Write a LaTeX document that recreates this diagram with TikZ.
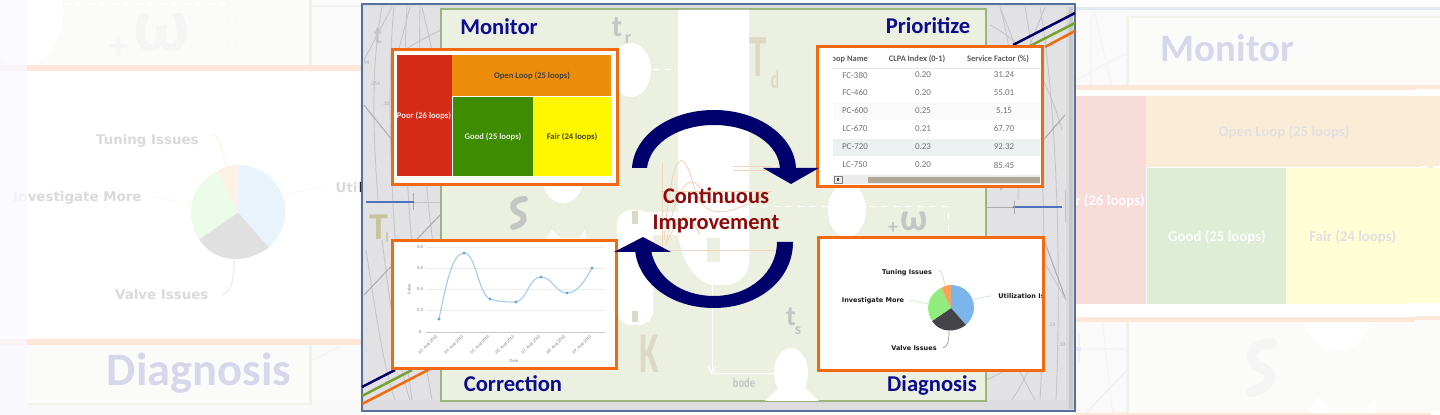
\documentclass[tikz,border=0pt]{standalone}
\usepackage{fontspec}
\setmainfont{Carlito}
\newfontfamily\piefont{DejaVu Sans}
\definecolor{navytitle}{HTML}{0C0C8E}
\definecolor{arrownavy}{HTML}{00006C}
\definecolor{maroonT}{HTML}{8E0A0A}
\definecolor{boxorange}{HTML}{F26A10}
\definecolor{panelgreen}{HTML}{EBF0E1}
\definecolor{paneledge}{HTML}{9DB57C}
\definecolor{stripgray}{HTML}{E2E2E4}
\definecolor{framegray}{HTML}{DDDDDF}
\definecolor{frameblue}{HTML}{54719E}
\definecolor{hatch}{HTML}{C6C6C8}
\definecolor{hatchd}{HTML}{ABABAD}
\definecolor{glyphtan}{HTML}{DED9C5}
\definecolor{glyphtand}{HTML}{C9C4A0}
\definecolor{glyphgray}{HTML}{C5C5C5}
\definecolor{lineblue}{HTML}{4F71BE}
\definecolor{stripegreen}{HTML}{76A22F}
\definecolor{tmred}{HTML}{D62B16}
\definecolor{tmorange}{HTML}{EC8E0C}
\definecolor{tmgreen}{HTML}{3E8C00}
\definecolor{tmyellow}{HTML}{FFF700}
\definecolor{chartline}{HTML}{A9CFEA}
\definecolor{chartpt}{HTML}{6AA8DC}
\definecolor{pieblue}{HTML}{7CB5EC}
\definecolor{piedark}{HTML}{434348}
\definecolor{piegreen}{HTML}{90ED7D}
\definecolor{pieorange}{HTML}{F7A35C}
\definecolor{miniorange}{HTML}{F2D5BC}
\definecolor{rowtint}{HTML}{ECF0F0}
\definecolor{scrollthumb}{HTML}{AFA899}
\def\lwk{1}
\tikzset{
  x=0.5pt,y=-0.5pt,
  lw/.style={line width=#1*\lwk*0.5pt},
  framerect/.style={fill=framegray,draw=frameblue,lw=2},
  greenpanel/.style={fill=panelgreen,draw=paneledge,lw=1.4},
  hatchline/.style={draw=hatch,lw=0.9},
  hatchdark/.style={draw=hatchd,lw=1},
  orangebox/.style={draw=boxorange,fill=white,lw=3},
  whiteshape/.style={fill=white,draw=none},
  title/.style={text=navytitle,anchor=base,font=\fontsize{11.3pt}{12pt}\selectfont\bfseries,inner sep=0pt},
  contlabel/.style={text=maroonT,anchor=base,font=\fontsize{11.2pt}{12pt}\selectfont\bfseries,inner sep=0pt},
  tmdark/.style={text=black!75,font=\fontsize{4.3pt}{5pt}\selectfont\bfseries,inner sep=0pt},
  tmlight/.style={text=black!8,font=\fontsize{4.3pt}{5pt}\selectfont\bfseries,inner sep=0pt},
  thead/.style={text=black!65,font=\fontsize{4.2pt}{5pt}\selectfont\bfseries,inner sep=0pt},
  tcell/.style={text=black!55,font=\fontsize{4.5pt}{5pt}\selectfont,inner sep=0pt},
  axlab/.style={text=black!50,font=\fontsize{2.3pt}{2.5pt}\selectfont,inner sep=0pt},
  pielab/.style={text=black!90,font=\piefont\fontsize{3.25pt}{3.5pt}\selectfont\bfseries,inner sep=0pt},
  gridl/.style={draw=black!8,lw=0.6},
  pieconn/.style={lw=0.7},
  ghostnum/.style={inner sep=0pt,text=hatchd,font=\fontsize{2.8pt}{3pt}\selectfont},
  ghostgray/.style={inner sep=0pt,text=glyphgray,font=\fontsize{#1pt}{#1pt}\selectfont\bfseries},
  ghosttan/.style={inner sep=0pt,text=glyphtan,font=\fontsize{#1pt}{#1pt}\selectfont\bfseries},
  ghosttand/.style={inner sep=0pt,text=glyphtand,font=\fontsize{#1pt}{#1pt}\selectfont\bfseries},
}
\newcommand{\maindiagram}{%
  % frame and grey strips
  \path[framerect] (362,4) rectangle (1075,411);
  \path[fill=stripgray] (364,7) rectangle (441,400);
  \path[fill=stripgray] (986,7) rectangle (1066,400);
  \path[fill=black!22] (1066,7) rectangle (1073,409);
  \path[fill=white,opacity=.35] (1066,7) rectangle (1069,409);
  % hatch left
  \begin{scope}
    \clip (364,7) rectangle (441,400);
    \draw[hatchline] (382,7) .. controls (372,60) and (372,120) .. (378,200);
    \draw[hatchline] (394,7) .. controls (385,100) and (392,260) .. (412,400);
    \draw[hatchline] (407,7) .. controls (400,120) and (410,280) .. (432,400);
    \draw[hatchline] (420,7) .. controls (418,100) and (425,200) .. (441,300);
    \draw[hatchline] (364,60) -- (392,7);
    \draw[hatchline] (396,60) -- (410,7);
    \draw[hatchline] (432,50) -- (422,7);
    \draw[hatchline] (441,30) .. controls (420,40) and (412,45) .. (405,50);
    \draw[hatchline] (366,250) .. controls (378,330) and (385,370) .. (395,400);
    \draw[hatchline] (382,240) .. controls (392,320) and (400,370) .. (410,400);
    \draw[hatchdark] (364,105) -- (392,140);
    \draw[hatchdark] (364,295) -- (441,214);
    \draw[hatchdark] (413,193) -- (413,210);
    \draw[hatchline] (414,202) -- (441,202);
  \end{scope}
  \draw[lineblue,lw=2] (366,202) -- (414,202);
  \node[ghostgray=12] (gt) at (378,36) {t};
  \node[ghostnum] (g1) at (366,63) {.54};
  \node[ghostnum] (g2) at (375,84) {.254};
  \node[ghostnum] (g3) at (386,104) {.10};
  % hatch right
  \begin{scope}
    \clip (986,7) rectangle (1066,400);
    \draw[hatchline] (1000,7) .. controls (1015,60) and (1020,140) .. (1018,200);
    \draw[hatchline] (1025,7) .. controls (1040,90) and (1050,220) .. (1040,400);
    \draw[hatchline] (1040,7) .. controls (1056,100) and (1062,260) .. (1056,400);
    \draw[hatchline] (990,25) .. controls (1020,40) and (1045,70) .. (1062,130);
    \draw[hatchline] (1000,7) -- (1015,45);
    \draw[hatchline] (1030,45) -- (1045,7);
    \draw[hatchline] (986,135) .. controls (1000,125) and (1010,125) .. (1020,130);
    \draw[hatchdark] (1000,190) -- (1065,115);
    \draw[hatchdark] (986,208) -- (1013,208);
    \draw[hatchdark] (1044,240) -- (1066,300);
    \draw[hatchline] (1043,260) -- (1066,300);
    \draw[hatchline] (1040,345) .. controls (1020,390) and (1015,395) .. (1012,400);
    \draw[hatchline] (986,380) .. controls (1010,370) and (1030,355) .. (1045,330);
    \draw[hatchline] (1020,372) -- (1035,400);
    \draw[hatchline] (1065,190) -- (1065,222);
  \end{scope}
  \draw[lineblue,lw=2] (1013,207) -- (1062,207);
  \draw[hatchdark] (1014,201) -- (1014,214);
  \node[ghostnum] (g4) at (1052,325) {.54};
  \node[ghostnum] (g5) at (1062,345) {.10};
  % green panel
  \path[greenpanel] (441,9) rectangle (986,401);
  % white background shapes
  \path[whiteshape] (678,10) -- (749,10) -- (749,262) .. controls (749,275) and (738,285) .. (725,285) -- (712,285) .. controls (692,280) and (678,255) .. (678,225) -- cycle;
  \path[whiteshape] (631,70) ellipse (20 and 27);
  \path[whiteshape] (563,180) ellipse (20 and 23);
  \path[whiteshape] (847,210) ellipse (19 and 27);
  \path[whiteshape,rounded corners=7pt] (617,210) rectangle (653,325);
  \path[whiteshape] (635,212) rectangle (678,235);
  \path[fill=glyphtan] (632,211) rectangle (638,224);
  \path[fill=glyphtan] (632,311) rectangle (638,322);
  \path[fill=panelgreen] (707,238) rectangle (720,262);
  \path[whiteshape] (791,373) ellipse (17 and 25);
  \path[whiteshape] (765,401) -- (780,387) -- (804,387) -- (819,401) -- cycle;
  \path[whiteshape] (545,240) -- (552,230) -- (560,238) -- (580,238) -- (585,230) -- (587,245) -- cycle;
  \draw[white,lw=1,dashed] (653,70) -- (678,70);
  \draw[white,lw=1,dashed] (750,207) -- (948,207) -- (948,235);
  \draw[white,lw=1] (712,285) -- (712,374) -- (790,374);
  \draw[white,lw=1] (708,366) -- (712,374) -- (716,366);
  \draw[white,lw=1] (783,369) -- (790,374) -- (783,379);
  % glyphs
  \node[ghostgray=15] (gtr) at (617,27) {t};
  \node[ghostgray=9] (gtr2) at (628,39) {r};
  \node[ghosttan=30,xscale=.58] (gTd) at (758,57) {T};
  \node[ghosttan=13,xscale=.6] (gTd2) at (775,79) {d};
  \node[ghosttand=19] (gTi) at (379,227) {T};
  \node[ghosttand=7] (gTi2) at (387,238) {l};
  \node[ghosttan=29,xscale=.62] (gK) at (649,354) {K};
  \node[ghostgray=14] (gts) at (791,317) {t};
  \node[ghostgray=8] (gts2) at (798,331) {s};
  \node[ghostgray=10] (gplus) at (893,228) {+};
  \node[ghostgray=19] (gom) at (914,221) {ω};
  \node[inner sep=0pt,text=glyphgray,xscale=.8,font=\fontsize{6.6pt}{7pt}\selectfont\bfseries] (gbode) at (744,383) {bode};
  \draw[glyphgray,lw=6,line cap=round] (525,199) .. controls (511,199) and (510,210) .. (519,213) .. controls (527,216) and (525,224) .. (513,227);
  % mini chart behind centre text
  \draw[miniorange,lw=.8] (662,163) -- (662,250) -- (775,250);
  \draw[miniorange,lw=.8] (660,191) -- (772,191);
  \draw[miniorange,lw=.9] (664,240) .. controls (675,120) and (688,165) .. (695,190) .. controls (703,215) and (720,222) .. (770,192);
  \draw[miniorange,lw=.9] (666,245) .. controls (678,170) and (695,175) .. (705,195) .. controls (715,205) and (740,205) .. (770,192);
  \draw[miniorange,lw=.9] (668,240) .. controls (684,205) and (690,215) .. (700,235);
  \draw[miniorange,lw=.8] (733,166) -- (772,166);
  \draw[miniorange,lw=.8] (733,170) -- (772,170);
  % stripes
  \draw[arrownavy,lw=2.5] (1013,45) -- (1075,13);
  \draw[stripegreen,lw=2.5] (1030,46) -- (1075,23);
  \draw[boxorange,lw=2.5] (1045,47) -- (1075,31);
  \draw[arrownavy,lw=2.5] (362,387) -- (395,370);
  \draw[stripegreen,lw=2.5] (362,396) -- (412,370);
  \draw[boxorange,lw=2.5] (362,404) -- (430,369);
  % Monitor box
  \path[orangebox] (392,50) rectangle (617,185);
  \path[fill=tmred] (397,55) rectangle (452,176);
  \path[fill=tmorange] (452,55) rectangle (611,96);
  \path[fill=tmgreen] (452.5,97) rectangle (533,176);
  \path[fill=tmyellow] (533,97) rectangle (611,176);
  \node[tmlight] (tmP) at (424,116) {Poor (26 loops)};
  \node[tmdark] (tmO) at (532,76) {Open Loop (25 loops)};
  \node[tmlight] (tmG) at (493,137) {Good (25 loops)};
  \node[tmdark] (tmF) at (572,137) {Fair (24 loops)};
  % Prioritize box
  \path[orangebox] (817,47) rectangle (1042,187);
  \path[fill=rowtint] (833,139) rectangle (1040,156);
  \path[fill=black!2] (833,102) rectangle (1040,120);
  \draw[black!10,lw=.7] (833,68) -- (1040,68);
  \begin{scope}
    \clip (833,48) rectangle (1040,186);
    \node[thead] (h1) at (848,59) {Loop Name};
    \node[thead] (h2) at (917,59) {CLPA Index (0-1)};
    \node[thead] (h3) at (998,59) {Service Factor (\%)};
    \foreach \n/\ry/\a/\b/\c in {r1/75/FC-380/0.20/31.24,r2/93/FC-460/0.20/55.01,r3/111/PC-600/0.25/5.15,r4/129/LC-670/0.21/67.70,r5/147/PC-720/0.23/92.32,r6/165/LC-750/0.20/85.45}{
      \node[tcell] (\n a) at (855,\ry) {\a};
      \node[tcell] (\n b) at (923,\ry) {\b};
      \node[tcell] (\n c) at (1004,\ry) {\c};
    }
    \path[fill=black!8] (833,175) rectangle (1040,184);
    \path[fill=scrollthumb] (868,177) rectangle (1040,183);
    \path[fill=black!8,draw=black!50,lw=.6] (834,176) rectangle (842,183);
    \path[fill=black!70] (837,178) rectangle (839,181);
  \end{scope}
  % Correction box
  \path[orangebox] (392,241) rectangle (616,369);
  \foreach \gy in {247,268,289.5,310.5}{\draw[gridl] (426,\gy) -- (605,\gy);}
  \draw[black!22,lw=.6] (426,332) -- (605,332);
  \foreach \n/\gy/\gt in {a0/247/0.8,a1/268/0.6,a2/289.5/0.4,a3/310.5/0.2,a4/332/0}{\node[axlab] (\n) at (420,\gy) {\gt};}
  \node[axlab,rotate=90] (aV) at (409,289) {Value};
  \node[axlab] (aD) at (514,361) {Date};
  \foreach \n/\gx/\gt in {d3/428/03,d4/454/04,d5/480/05,d6/505/06,d7/531/07,d8/556/08,d9/582/09}{
    \node[axlab,rotate=45] (\n) at (\gx,345) {\gt. Aug 2016};}
  \draw[chartline,lw=1.2] (439,319) .. controls (446,285) and (452,253) .. (464,253) .. controls (476,253) and (478,294) .. (490,299) .. controls (498,302) and (508,302) .. (516,302) .. controls (527,300) and (529,277) .. (541,277) .. controls (552,277) and (556,293) .. (567,293) .. controls (578,293) and (585,280) .. (592,268);
  \foreach \n/\px/\py in {p1/439/319,p2/464/253,p3/490/299,p4/516/302,p5/541/277,p6/567/293,p7/592/268}{
    \path[fill=chartpt] (\px,\py) circle (1.6);}
  % Diagnosis box
  \path[orangebox] (818,238) rectangle (1043,371);
  \path[fill=pieblue] (951,308) -- (951,285) .. controls (964,285) and (974,295) .. (974,308) .. controls (974,314) and (971,320) .. (966,325) -- cycle;
  \path[fill=piedark] (951,308) -- (966,325) .. controls (955,333) and (940,333) .. (932,321) -- cycle;
  \path[fill=piegreen] (951,308) -- (932,321) .. controls (925,310) and (927,295) .. (941,288) -- cycle;
  \path[fill=pieorange] (951,308) -- (941,288) .. controls (944,286) and (947,285) .. (951,285) -- cycle;
  \draw[pieorange!50,pieconn] (939,270) .. controls (943,272) and (944,282) .. (945,286);
  \draw[piegreen!50,pieconn] (909,300) -- (928,304);
  \draw[piedark!55,pieconn] (949,331) .. controls (949,340) and (948,347) .. (943,348);
  \draw[pieblue!40,pieconn] (973,300) .. controls (980,298) and (986,296) .. (992,296);
  \node[pielab] (pT) at (907,273) {Tuning Issues};
  \node[pielab] (pI) at (873,301) {Investigate More};
  \node[pielab] (pV) at (914,348) {Valve Issues};
  \begin{scope}
    \clip (990,285) rectangle (1041,305);
    \node[pielab,anchor=west] (pU) at (998,296) {Utilization Issues};
  \end{scope}
  % circular arrows
  \path[fill=arrownavy] (632,168) .. controls (634,135) and (670,110) .. (714,110) .. controls (759,110) and (796,137) .. (796,170) -- (780,170) .. controls (780,145) and (751,125) .. (714,125) .. controls (680,125) and (650,142) .. (647,168) -- cycle;
  \path[fill=arrownavy] (763,168) -- (819,168) -- (791,184) -- cycle;
  \path[fill=arrownavy] (635,250) .. controls (638,282) and (670,308) .. (714,308) .. controls (758,308) and (793,280) .. (793,242) -- (777,242) .. controls (777,272) and (750,296) .. (714,296) .. controls (682,296) and (656,278) .. (651,250) -- cycle;
  \path[fill=arrownavy] (614,252) -- (671,252) -- (643,237) -- cycle;
  % titles
  \node[title] (tMon) at (499,35) {Monitor};
  \node[title] (tPri) at (928,34) {Prioritize};
  \node[title] (tCor) at (513,392) {Correction};
  \node[title] (tDia) at (932,392) {Diagnosis};
  \node[contlabel] (cont1) at (716,204) {Continuous};
  \node[contlabel] (cont2) at (716,230) {Improvement};
}
\begin{document}
\begin{tikzpicture}
  \useasboundingbox (0,0) rectangle (1440,415);
  \path[fill=white] (0,0) rectangle (1440,415);
  % left faded enlargement
  \begin{scope}
    \clip (0,0) rectangle (360,415);
    \begin{scope}[shift={(-1721,-422)},scale=2.06,transform shape]
      \def\lwk{2}
      \maindiagram
    \end{scope}
    \path[fill=white,opacity=.84] (0,0) rectangle (360,415);
    \path[fill=white,opacity=.7] (0,0) rectangle (27,415);
    \path[fill=blue!6,opacity=.3] (0,0) rectangle (27,415);
  \end{scope}
  % right faded enlargement
  \begin{scope}
    \clip (1076,0) rectangle (1440,415);
    \begin{scope}[shift={(369,1.5)},scale=1.72,transform shape]
      \def\lwk{1.8}
      \maindiagram
    \end{scope}
    % the enlargement runs on past the right edge of the picture
    \path[fill=panelgreen] (1415,18) rectangle (1440,85);
    \path[fill=boxorange] (1415,85) rectangle (1440,89);
    \path[fill=white] (1415,89) rectangle (1440,96);
    \path[fill=tmorange] (1405,96) rectangle (1440,166);
    \path[fill=tmyellow] (1405,168) rectangle (1440,303);
    \path[fill=white] (1405,303) rectangle (1440,316);
    \path[fill=boxorange] (1415,316) rectangle (1440,320);
    \path[fill=panelgreen] (1415,320) rectangle (1440,411);
    \path[fill=white,opacity=.84] (1076,0) rectangle (1440,415);
  \end{scope}
  % main picture
  \maindiagram
\end{tikzpicture}
\end{document}
